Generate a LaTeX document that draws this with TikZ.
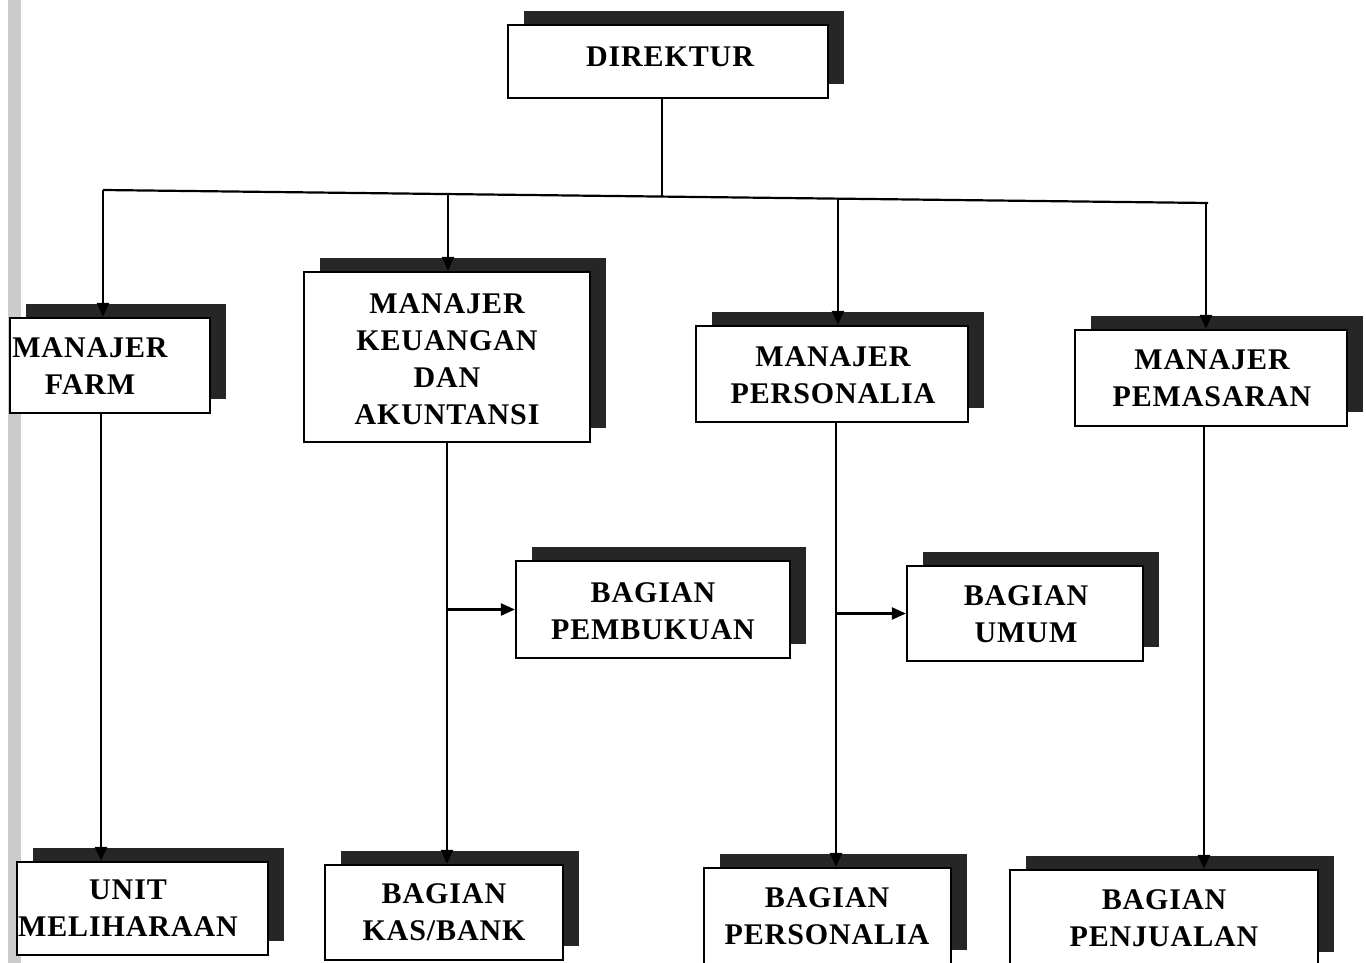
\documentclass[tikz,border=0pt]{standalone}
\usepackage{fontspec}
\setmainfont{Liberation Serif}[LetterSpace=3]
\usetikzlibrary{shadows,arrows.meta}
\begin{document}
\begin{tikzpicture}[x=1pt,y=-1pt,
  box/.style={draw=black,line width=2.2pt,fill=white,rectangle,inner sep=0pt,
    general shadow={shadow xshift=16pt,shadow yshift=14pt,fill=black!85}},
  lbl/.style={font=\fontsize{30}{37}\selectfont\bfseries,align=center,inner sep=0pt},
  conn/.style={line width=2.2pt,-{Triangle[length=14pt,width=12pt]}},
  plain/.style={line width=2.2pt}]
\useasboundingbox (0,0) rectangle (1366,963);
\fill[white] (0,0) rectangle (1366,963);
\fill[gray!40] (8,0) rectangle (21,963);
% boxes
\node[box,minimum width=320,minimum height=73] (dir) at (668,61.5) {};
\node[box,minimum width=200,minimum height=95] (farm) at (110,365.5) {};
\node[box,minimum width=286,minimum height=170] (keu) at (447,357) {};
\node[box,minimum width=272,minimum height=96] (mper) at (832,374) {};
\node[box,minimum width=272,minimum height=96] (mpem) at (1211,378) {};
\node[box,minimum width=274,minimum height=97] (pem) at (653,609.5) {};
\node[box,minimum width=236,minimum height=95] (umum) at (1025,613.5) {};
\node[box,minimum width=251,minimum height=93] (unit) at (142.5,908.5) {};
\node[box,minimum width=238,minimum height=95] (kas) at (444,912.5) {};
\node[box,minimum width=247,minimum height=96] (bper) at (827.5,916) {};
\node[box,minimum width=308,minimum height=96] (bpen) at (1164,918) {};
% labels
\node[lbl] (dirT) at (670,57) {DIREKTUR};
\node[lbl] (farmT) at (90,366) {MANAJER\\FARM};
\node[lbl] (keuT) at (447,359) {MANAJER\\KEUANGAN\\DAN\\AKUNTANSI};
\node[lbl] (mperT) at (833,375) {MANAJER\\PERSONALIA};
\node[lbl] (mpemT) at (1212,378) {MANAJER\\PEMASARAN};
\node[lbl] (pemT) at (653,611) {BAGIAN\\PEMBUKUAN};
\node[lbl] (umumT) at (1026,614) {BAGIAN\\UMUM};
\node[lbl] (unitT) at (128,908) {UNIT\\MELIHARAAN};
\node[lbl] (kasT) at (444,912) {BAGIAN\\KAS/BANK};
\node[lbl] (bperT) at (827,916) {BAGIAN\\PERSONALIA};
\node[lbl] (bpenT) at (1164,918) {BAGIAN\\PENJUALAN};
% connector coordinates
\coordinate (j1) at (103,190);
\coordinate (jd) at (662,196.5);
\coordinate (j2) at (448,194);
\coordinate (j3) at (838,199);
\coordinate (j4) at (1206,203);
\coordinate (jr) at (1208,203);
\coordinate (c1) at (101,0);
\coordinate (c2) at (447,0);
\coordinate (c3) at (836,0);
\coordinate (c4) at (1204,0);
% connectors
\draw[plain] (j1) -- (jr);
\draw[plain] (dir.south -| jd) -- (jd);
\draw[conn] (j1) -- (j1 |- farm.north);
\draw[conn] (j2) -- (j2 |- keu.north);
\draw[conn] (j3) -- (j3 |- mper.north);
\draw[conn] (j4) -- (j4 |- mpem.north);
\draw[conn] (farm.south -| c1) -- (unit.north -| c1);
\draw[conn] (keu.south -| c2) -- (kas.north -| c2);
\draw[conn] (pem.west -| c2) -- (pem.west);
\draw[conn] (mper.south -| c3) -- (bper.north -| c3);
\draw[conn] (umum.west -| c3) -- (umum.west);
\draw[conn] (mpem.south -| c4) -- (bpen.north -| c4);
\end{tikzpicture}
\end{document}
